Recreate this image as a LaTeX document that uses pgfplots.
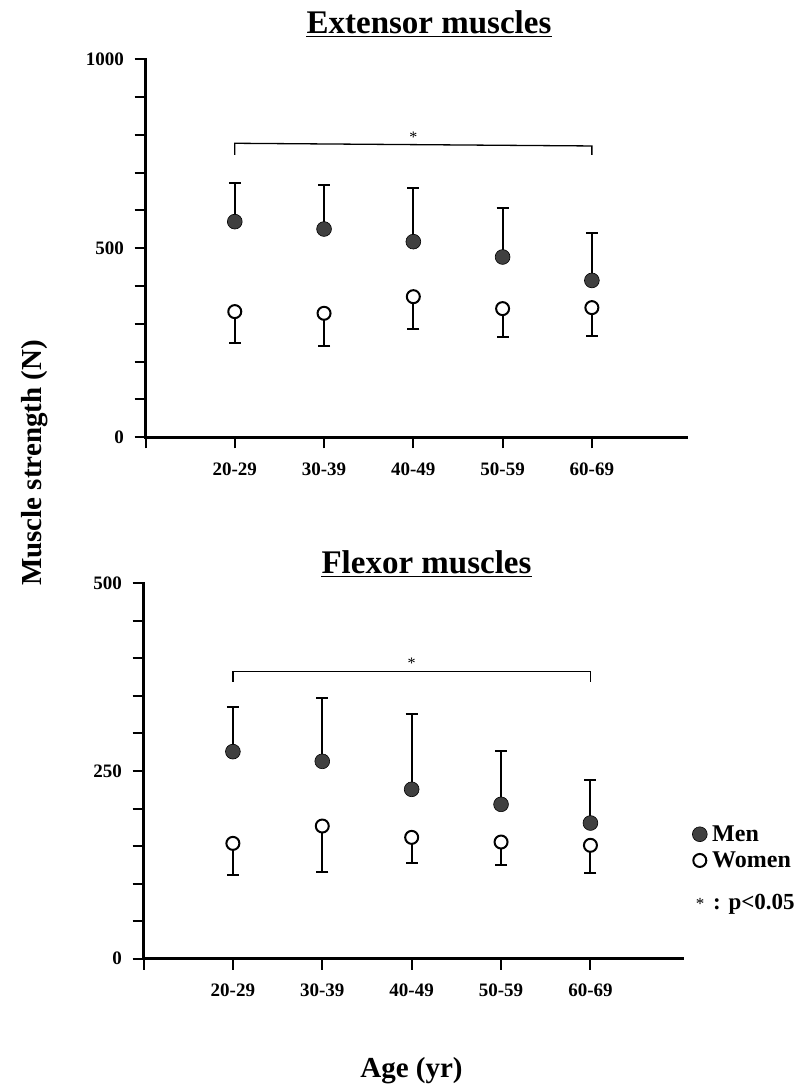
\documentclass[border=0pt]{standalone}
\usepackage{fontspec}
\setmainfont{Liberation Serif}
\usepackage{pgfplots}
\usepackage{pgfplotstable}
\pgfplotsset{compat=1.18}

% Extensor muscles
\pgfplotstableread{
x y e
1 570.5 103.2
2 551.0 115.7
3 517.6 142.0
4 477.0 128.8
5 415.0 124.7
}\extmen
\pgfplotstableread{
x y e
1 332.5 82.9
2 328.0 85.5
3 372.0 85.4
4 340.4 74.1
5 343.0 74.0
}\extwomen
% Flexor muscles
\pgfplotstableread{
x y e
1 275.8 59.5
2 262.9 84.3
3 225.6 100.8
4 205.6 71.0
5 180.7 56.9
}\flxmen
\pgfplotstableread{
x y e
1 153.6 42.1
2 176.7 61.2
3 161.6 34.6
4 155.4 31.1
5 151.0 36.4
}\flxwomen

\pgfplotsset{
  mypanel/.style={
    anchor=south west, scale only axis, xmin=0, ymin=0,
    axis lines=left, axis line style={-, line width=2.7pt, line cap=rect, black},
    tick align=outside, major tick length=11pt, minor tick length=11pt,
    tick style={black, line width=2pt},
    xtick={0,1,2,3,4,5}, xticklabels={,20-29,30-39,40-49,50-59,60-69},
    ticklabel style={font=\fontsize{19}{21}\selectfont\bfseries},
    yticklabel style={xshift=-7pt},
    xticklabel style={yshift=-11pt},
    /pgf/number format/assume math mode=true,
    clip=false,
  },
  errup/.style={forget plot, draw=none, mark=none,
    error bars/.cd, y dir=plus, y explicit,
    error bar style={draw=black, line width=2pt},
    error mark options={draw=black, line width=2.2pt, mark size=6pt, rotate=90}},
  errdown/.style={forget plot, draw=none, mark=none,
    error bars/.cd, y dir=minus, y explicit,
    error bar style={draw=black, line width=2pt},
    error mark options={draw=black, line width=2.2pt, mark size=6pt, rotate=90}},
  menmark/.style={only marks, mark=*, mark size=7.4pt,
    mark options={fill=black!75, draw=black, line width=0.6pt}},
  womenmark/.style={only marks, mark=*, mark size=6.5pt,
    mark options={fill=white, draw=black, line width=2pt}},
}

\begin{document}
\begin{tikzpicture}[x=1pt,y=1pt]
\useasboundingbox (0,0) rectangle (799,1090);

% ---------- Extensor ----------
\begin{axis}[mypanel, at={(145.5pt,652.7pt)}, width=541pt, height=378pt,
  xmax=6.06, ymax=1000,
  ytick={0,100,200,300,400,500,600,700,800,900,1000},
  yticklabels={0,,,,,500,,,,,1000}]
\addplot[errup] table[x=x, y=y, y error=e] {\extmen};
\addplot[errdown] table[x=x, y=y, y error=e] {\extwomen};
\addplot[menmark] table[x=x, y=y] {\extmen};
\addplot[womenmark] table[x=x, y=y] {\extwomen};
\addplot[forget plot, black, line width=1.3pt, mark=none] coordinates {(1,747) (1,777.8) (5,770.7) (5,747)};
\node[anchor=base, inner sep=0pt, font=\fontsize{16}{16}\selectfont] at (axis cs:3,780) {*};
\end{axis}

% ---------- Flexor ----------
\begin{axis}[mypanel, at={(143.5pt,131.3pt)}, width=539pt, height=375.4pt,
  xmax=6.03, ymax=500,
  ytick={0,50,100,150,200,250,300,350,400,450,500},
  yticklabels={0,,,,,250,,,,,500},
  legend style={at={(1.018,0.355)}, anchor=north west, draw=none, fill=none,
    inner sep=0pt, row sep=9pt, column sep=5pt,
    font=\fontsize{24}{24}\selectfont\bfseries, nodes={inner sep=0pt}},
  legend cell align=left,
  legend image code/.code={\draw[#1] plot coordinates {(7.5pt,0pt)};}]
\addplot[errup] table[x=x, y=y, y error=e] {\flxmen};
\addplot[errdown] table[x=x, y=y, y error=e] {\flxwomen};
\addplot[menmark] table[x=x, y=y] {\flxmen};
\addlegendentry{Men}
\addplot[womenmark] table[x=x, y=y] {\flxwomen};
\addlegendentry{Women}
\addplot[forget plot, black, line width=1.3pt, mark=none] coordinates {(1,369) (1,382.3) (5,382.3) (5,369)};
\node[anchor=base, inner sep=0pt, font=\fontsize{16}{16}\selectfont] at (axis cs:3,387) {*};
\end{axis}

% ---------- titles and labels ----------
\node[anchor=base, inner sep=0pt, font=\fontsize{33}{36}\selectfont\bfseries] (t1) at (429,1056.7) {Extensor muscles};
\draw[line width=1.5pt] ([yshift=-3.4pt]t1.base west) -- ([yshift=-3.4pt]t1.base east);
\node[anchor=base, inner sep=0pt, font=\fontsize{33}{36}\selectfont\bfseries] (t2) at (426.5,516.7) {Flexor muscles};
\draw[line width=1.5pt] ([yshift=-3.4pt]t2.base west) -- ([yshift=-3.4pt]t2.base east);
\node[anchor=base, inner sep=0pt, rotate=90, font=\fontsize{29}{32}\selectfont\bfseries] at (41.5,627) {Muscle strength (N)};
\node[anchor=base, inner sep=0pt, font=\fontsize{29}{32}\selectfont\bfseries] at (411.5,12.7) {Age (yr)};
\node[anchor=base, inner sep=0pt, font=\fontsize{17}{17}\selectfont] at (700,180) {*};
\node[anchor=base west, inner sep=0pt, font=\fontsize{23}{23}\selectfont\bfseries] at (713,180) {: p<0.05};
\end{tikzpicture}
\end{document}
